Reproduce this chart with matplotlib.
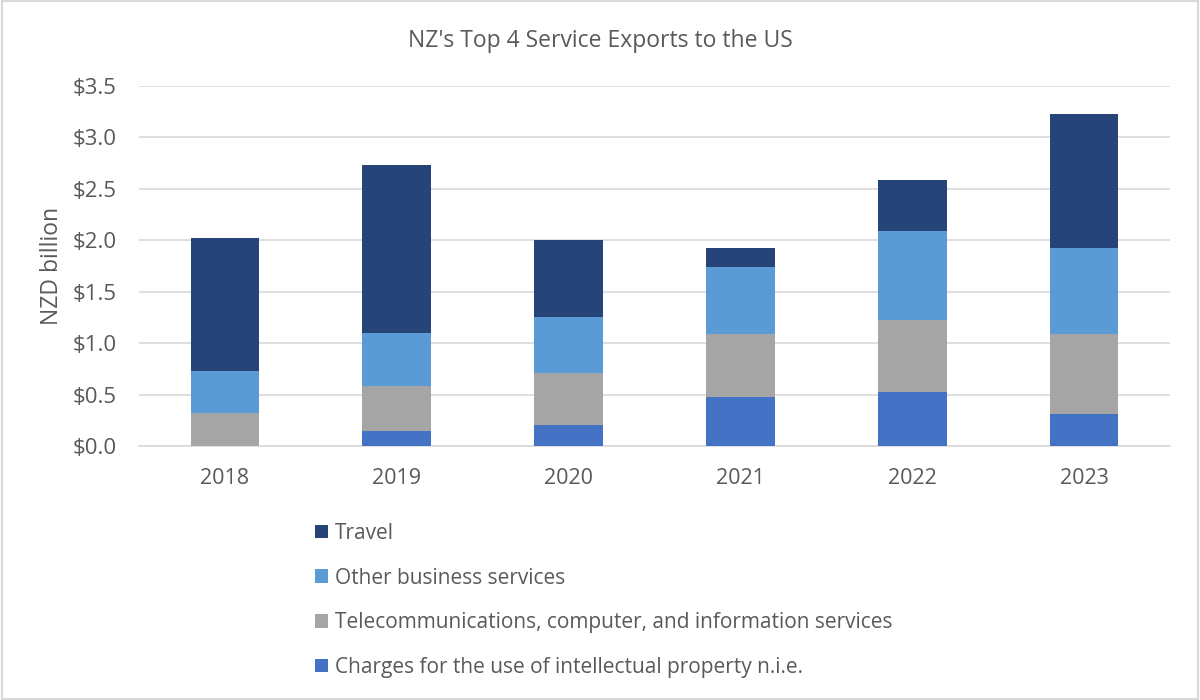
import numpy as np
import matplotlib.pyplot as plt
from matplotlib.patches import Rectangle

plt.rcParams['font.family'] = ['Open Sans', 'DejaVu Sans']

years = ["2018", "2019", "2020", "2021", "2022", "2023"]
charges = [0.0, 0.15, 0.20, 0.48, 0.525, 0.31]
telecom = [0.32, 0.43, 0.51, 0.61, 0.70, 0.775]
other = [0.41, 0.515, 0.54, 0.65, 0.865, 0.84]
travel = [1.29, 1.64, 0.755, 0.18, 0.50, 1.30]

series = [
    ("Charges for the use of intellectual property n.i.e.", charges, "#4472C4"),
    ("Telecommunications, computer, and information services", telecom, "#A5A5A5"),
    ("Other business services", other, "#5B9BD5"),
    ("Travel", travel, "#264478"),
]

fig = plt.figure(figsize=(12, 7), dpi=100)
ax = fig.add_axes([0.1158, 0.3629, 0.8592, 0.5143])

x = np.arange(len(years))
bottom = np.zeros(len(years))
handles = []
for name, vals, col in series:
    b = ax.bar(x, vals, width=0.40, bottom=bottom, color=col, label=name, zorder=3)
    handles.append(b)
    bottom += np.array(vals)

ax.set_ylim(0, 3.5)
ax.set_xlim(-0.5, len(years) - 0.5)
ax.set_yticks(np.arange(0, 3.51, 0.5))
ax.set_yticklabels(["$%.1f" % v for v in np.arange(0, 3.51, 0.5)])
ax.set_xticks(x)
ax.set_xticklabels(years)
ax.grid(axis="y", color="#D9D9D9", linewidth=1.2, zorder=0)
for s in ["top", "right", "left"]:
    ax.spines[s].set_visible(False)
ax.spines["bottom"].set_color("#D9D9D9")
ax.spines["bottom"].set_linewidth(1.2)
ax.tick_params(axis="x", length=0, labelsize=15.5, labelcolor="#595959", pad=16)
ax.tick_params(axis="y", length=0, labelsize=16, labelcolor="#595959", pad=16)
ax.set_ylabel("NZD billion", fontsize=16.5, color="#595959", labelpad=6)

fig.text(0.5, 0.942, "NZ's Top 4 Service Exports to the US", ha="center", va="center",
         fontsize=16.5, color="#595959")

fig.legend(handles[::-1], [s[0] for s in series][::-1], loc="upper left",
           bbox_to_anchor=(0.247, 0.28), frameon=False, fontsize=15,
           labelspacing=1.14, handlelength=0.62, handleheight=0.62, handletextpad=0.35,
           labelcolor="#595959")

fig.patches.append(Rectangle((0.002, 0.002), 0.996, 0.996, transform=fig.transFigure,
                             fill=False, edgecolor="#D9D9D9", linewidth=1.5))

fig.savefig("out.png", dpi=100)
